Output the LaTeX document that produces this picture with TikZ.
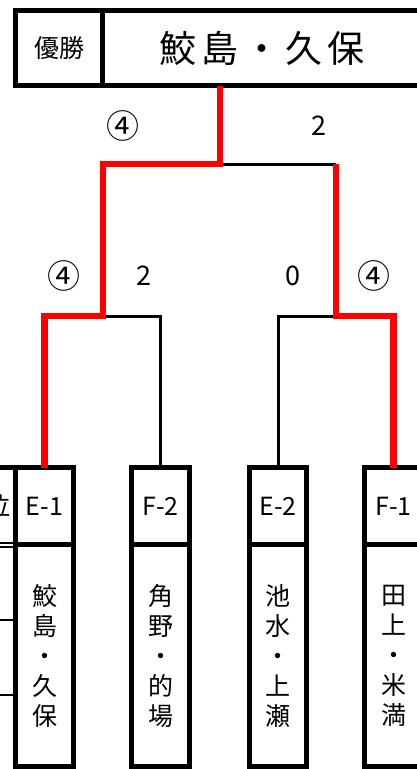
\documentclass[tikz,border=0pt]{standalone}
\usepackage{fontspec}
\newfontfamily\jp{Noto Sans CJK JP}
\usetikzlibrary{positioning}
\begin{document}
\begin{tikzpicture}[x=1pt,y=-1pt,
  box/.style={draw,line width=5pt,inner sep=0pt,outer sep=0pt,minimum width=57.4pt},
  codebox/.style={box,minimum height=77.2pt,font=\jp\fontsize{25}{30}\selectfont},
  namebox/.style={box,minimum height=222pt,anchor=north,align=center,font=\jp\fontsize{25}{30}\selectfont},
  score/.style={font=\jp\fontsize{27}{30}\selectfont},
  circled/.style={font=\jp\fontsize{33}{36}\selectfont},
  lose/.style={line width=3pt},
  win/.style={line width=6.5pt,red}]
\useasboundingbox (0,0) rectangle (416,769);
%winner box
\node[box,minimum width=86.7pt,minimum height=75pt,font=\jp\fontsize{25}{30}\selectfont] (yusho) at (59.2,48.3) {優勝};
\node[box,minimum width=319.5pt,minimum height=75pt,font=\jp\fontsize{37}{40}\selectfont,anchor=west] (champ) at (yusho.east) {鮫\kern5pt 島\kern5pt ・\kern5pt 久\kern5pt 保};
%entries
\node[codebox] (e1) at (44.5,506.1) {E-1}; \node[namebox] (n1) at (e1.south) {鮫\\島\\・\\久\\保};
\node[codebox] (f2) at (160.5,506.1) {F-2}; \node[namebox] (n2) at (f2.south) {角\\野\\・\\的\\場};
\node[codebox] (e2) at (278,506.1) {E-2}; \node[namebox] (n3) at (e2.south) {池\\水\\・\\上\\瀬};
\node[codebox] (f1) at (393.5,506.1) {F-1}; \node[namebox] (n4) at (f1.south) {田\\上\\・\\米\\満};
%the box cut off at the left
\draw[line width=5pt] (0,467.5) -- (e1.north west);
\draw[line width=2pt] (0,543.3) -- (e1.west |- 0,543.3); \draw[line width=2pt] (0,546.7) -- (e1.west |- 0,546.7);
\draw[line width=2pt] (0,620) -- (e1.west |- 0,620); \draw[line width=2pt] (0,695) -- (e1.west |- 0,695);
\node[font=\jp\fontsize{25}{30}\selectfont] (rank) at (-2,506) {位};
%bracket joints
\coordinate (final) at (220,164); \coordinate (semi1) at (103,316); \coordinate (semi2) at (336,316);
\draw[lose] (final) -- (semi2 |- final);
\draw[lose] (semi1) -| (f2.north); \draw[lose] (semi2) -| (e2.north);
%winning path
\draw[win] (e1.north) |- (semi1) |- (final) -- (final |- champ.south);
\draw[win] (f1.north) |- (semi2) -- (semi2 |- final);
%scores
\node[circled] (sc1) at (122.5,126) {④}; \node[score] (sc2) at (319,126) {2};
\node[circled] (sc3) at (63.5,276) {④}; \node[score] (sc4) at (144,276) {2};
\node[score] (sc5) at (293,276) {0}; \node[circled] (sc6) at (374,276) {④};
\end{tikzpicture}
\end{document}
